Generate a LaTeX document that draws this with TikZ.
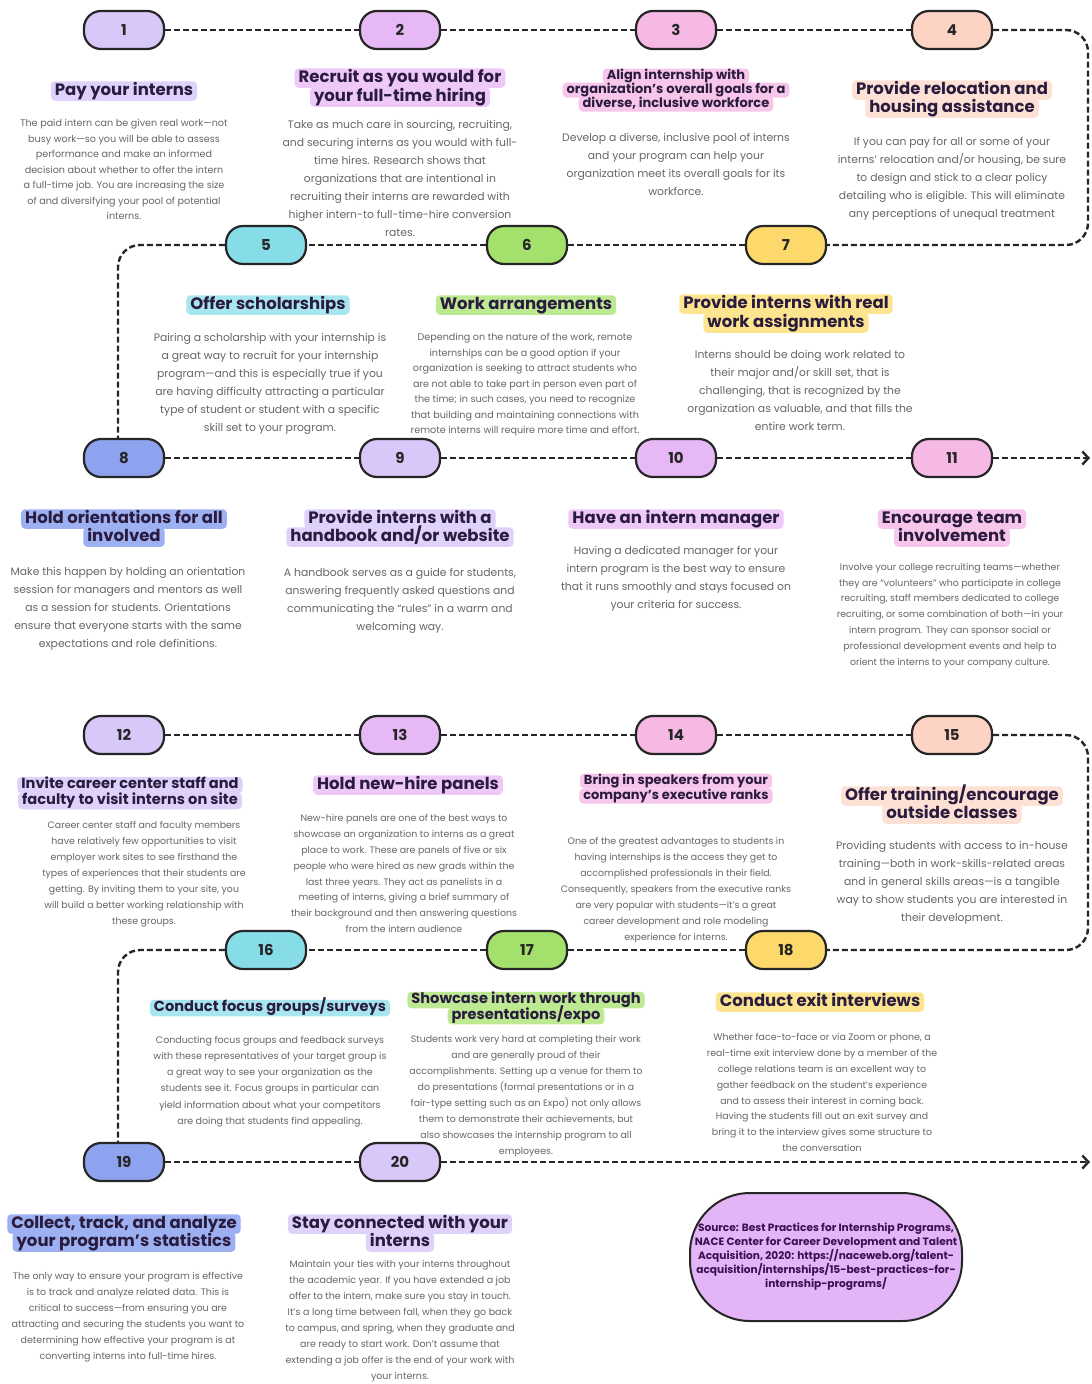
\documentclass[tikz,border=0pt]{standalone}
\usepackage{fontspec}
\setmainfont{Poppins}
\usetikzlibrary{arrows.meta}
\definecolor{linec}{HTML}{262626}
\definecolor{titlec}{HTML}{2A1C3E}
\definecolor{bodyc}{HTML}{666666}
\definecolor{clav}{HTML}{D8C8FA}
\definecolor{clavpink}{HTML}{E6B8F5}
\definecolor{cpink}{HTML}{F6B9E4}
\definecolor{cpeach}{HTML}{FDD3C3}
\definecolor{ccyan}{HTML}{86DDE8}
\definecolor{cgreen}{HTML}{A3E06C}
\definecolor{cyellow}{HTML}{FDD96B}
\definecolor{cblue}{HTML}{8EA3EF}
\definecolor{hlav}{HTML}{DED1FB}
\definecolor{hlavpink}{HTML}{EEC8F8}
\definecolor{hpink}{HTML}{F8C6EA}
\definecolor{hpeach}{HTML}{FDE1D4}
\definecolor{hcyan}{HTML}{A8E6EE}
\definecolor{hgreen}{HTML}{BDE992}
\definecolor{hyellow}{HTML}{FDE48F}
\definecolor{hblue}{HTML}{9DB0F2}
\definecolor{csrc}{HTML}{E3B5F6}
\definecolor{srctext}{HTML}{3A1050}
\tikzset{
  pill/.style={draw=linec, line width=2.2pt, rounded corners=17pt, minimum width=80pt, minimum height=38pt,
    font=\fontsize{15}{15}\selectfont\bfseries, text=linec},
  conn/.style={draw=linec, line width=2.4pt, dash pattern=on 6pt off 3pt},
  ttl/.style={font=\fontsize{16.5}{18}\selectfont\bfseries, text=titlec, inner xsep=4pt, inner ysep=2pt,
    rounded corners=4pt, text height=12pt, text depth=3.5pt},
  sttl/.style={ttl, font=\fontsize{13}{14}\selectfont\bfseries, text height=9.5pt, text depth=2.5pt, inner ysep=1.5pt},
  mttl/.style={ttl, font=\fontsize{14.6}{16}\selectfont\bfseries, text height=10.5pt, text depth=3pt, inner ysep=1.5pt},
  body/.style={align=center, text=bodyc, inner sep=0pt},
  tip/.style={-{Straight Barb[length=6pt,width=13pt]}}
}
\newcommand{\fa}{\fontsize{9.6}{15.5}\selectfont}
\newcommand{\fb}{\fontsize{10.8}{18}\selectfont}
\newcommand{\fc}{\fontsize{9.4}{15.9}\selectfont}
\newcommand{\fd}{\fontsize{9.5}{16.1}\selectfont}
\begin{document}
\begin{tikzpicture}[x=1pt,y=-1pt]
\fill[white] (0,0) rectangle (1092,1384);
\useasboundingbox (0,0) rectangle (1092,1384);

% ---------- pills ----------
\node[pill,fill=clav] (p1) at (124,30) {1};
\node[pill,fill=clavpink] (p2) at (400,30) {2};
\node[pill,fill=cpink] (p3) at (676,30) {3};
\node[pill,fill=cpeach] (p4) at (952,30) {4};
\node[pill,fill=ccyan] (p5) at (266,245) {5};
\node[pill,fill=cgreen] (p6) at (527,245) {6};
\node[pill,fill=cyellow] (p7) at (786,245) {7};
\node[pill,fill=cblue] (p8) at (124,458) {8};
\node[pill,fill=clav] (p9) at (400,458) {9};
\node[pill,fill=clavpink] (p10) at (676,458) {10};
\node[pill,fill=cpink] (p11) at (952,458) {11};
\node[pill,fill=clav] (p12) at (124,735) {12};
\node[pill,fill=clavpink] (p13) at (400,735) {13};
\node[pill,fill=cpink] (p14) at (676,735) {14};
\node[pill,fill=cpeach] (p15) at (952,735) {15};
\node[pill,fill=ccyan] (p16) at (266,950) {16};
\node[pill,fill=cgreen] (p17) at (527,950) {17};
\node[pill,fill=cyellow] (p18) at (786,950) {18};
\node[pill,fill=cblue] (p19) at (124,1162) {19};
\node[pill,fill=clav] (p20) at (400,1162) {20};

% ---------- connectors ----------
\coordinate (k1) at (1088,30);
\coordinate (k2) at (1088,245);
\coordinate (k3) at (118,245);
\coordinate (k4) at (1090,458);
\coordinate (k5) at (1088,735);
\coordinate (k6) at (1088,950);
\coordinate (k7) at (118,950);
\coordinate (k8) at (1090,1162);
\draw[conn] (p1) -- (p2);
\draw[conn] (p2) -- (p3);
\draw[conn] (p3) -- (p4);
\draw[conn,rounded corners=22pt] (p4.east) -- (k1) -- (k2) -- (p7.east);
\draw[conn] (p7) -- (p6);
\draw[conn] (p6) -- (p5);
\draw[conn,rounded corners=22pt] (p5.west) -- (k3) -- (k3 |- p8.north);
\draw[conn] (p8) -- (p9);
\draw[conn] (p9) -- (p10);
\draw[conn] (p10) -- (p11);
\draw[conn,tip] (p11) -- (k4);
\draw[conn] (p12) -- (p13);
\draw[conn] (p13) -- (p14);
\draw[conn] (p14) -- (p15);
\draw[conn,rounded corners=22pt] (p15.east) -- (k5) -- (k6) -- (p18.east);
\draw[conn] (p18) -- (p17);
\draw[conn] (p17) -- (p16);
\draw[conn,rounded corners=22pt] (p16.west) -- (k7) -- (k7 |- p19.north);
\draw[conn] (p19) -- (p20);
\draw[conn,tip] (p20) -- (k8);

% ---------- titles ----------
\node[ttl,fill=hlav] (t1) at (124,91) {Pay your interns};
\node[ttl,fill=hlavpink] (t2a) at (400,78) {Recruit as you would for};
\node[ttl,fill=hlavpink] (t2b) at (400,97) {your full-time hiring};
\node[sttl,fill=hpink] (t3a) at (676,76) {Align internship with};
\node[sttl,fill=hpink] (t3b) at (676,90) {organization’s overall goals for a};
\node[sttl,fill=hpink] (t3c) at (676,104) {diverse, inclusive workforce};
\node[ttl,fill=hpeach] (t4a) at (952,90) {Provide relocation and};
\node[ttl,fill=hpeach] (t4b) at (952,108) {housing assistance};
\node[ttl,fill=hcyan] (t5) at (268,305) {Offer scholarships};
\node[ttl,fill=hgreen] (t6) at (526,305) {Work arrangements};
\node[ttl,fill=hyellow] (t7a) at (786,304) {Provide interns with real};
\node[ttl,fill=hyellow] (t7b) at (786,323) {work assignments};
\node[ttl,fill=hblue] (t8a) at (124,519) {Hold orientations for all};
\node[ttl,fill=hblue] (t8b) at (124,537) {involved};
\node[ttl,fill=hlav] (t9a) at (400,519) {Provide interns with a};
\node[ttl,fill=hlav] (t9b) at (400,537) {handbook and/or website};
\node[ttl,fill=hlavpink] (t10) at (676,519) {Have an intern manager};
\node[ttl,fill=hpink] (t11a) at (952,519) {Encourage team};
\node[ttl,fill=hpink] (t11b) at (952,537) {involvement};
\node[mttl,fill=hlav] (t12a) at (130,785) {Invite career center staff and};
\node[mttl,fill=hlav] (t12b) at (130,801) {faculty to visit interns on site};
\node[ttl,fill=hlavpink] (t13) at (408,785) {Hold new-hire panels};
\node[sttl,fill=hpink] (t14a) at (676,781) {Bring in speakers from your};
\node[sttl,fill=hpink] (t14b) at (676,796) {company’s executive ranks};
\node[ttl,fill=hpeach] (t15a) at (952,796) {Offer training/encourage};
\node[ttl,fill=hpeach] (t15b) at (952,814) {outside classes};
\node[mttl,fill=hcyan] (t16) at (270,1008) {Conduct focus groups/surveys};
\node[mttl,fill=hgreen] (t17a) at (526,1000) {Showcase intern work through};
\node[mttl,fill=hgreen] (t17b) at (526,1016) {presentations/expo};
\node[ttl,fill=hyellow] (t18) at (820,1002) {Conduct exit interviews};
\node[ttl,fill=hblue] (t19a) at (124,1224) {Collect, track, and analyze};
\node[ttl,fill=hblue] (t19b) at (124,1242) {your program’s statistics};
\node[ttl,fill=hlav] (t20a) at (400,1224) {Stay connected with your};
\node[ttl,fill=hlav] (t20b) at (400,1242) {interns};

% ---------- bodies ----------
\node[body,font=\fa] (b1) at (124,169.5) {The paid intern can be given real work—not\\busy work—so you will be able to assess\\performance and make an informed\\decision about whether to offer the intern\\a full-time job. You are increasing the size\\of and diversifying your pool of potential\\interns.};
\node[body,font=\fb] (b2) at (400,178) {Take as much care in sourcing, recruiting,\\and securing interns as you would with full-\\time hires. Research shows that\\organizations that are intentional in\\recruiting their interns are rewarded with\\higher intern-to full-time-hire conversion\\rates.};
\node[body,font=\fb] (b3) at (676,164) {Develop a diverse, inclusive pool of interns\\and your program can help your\\organization meet its overall goals for its\\workforce.};
\node[body,font=\fb] (b4) at (952,179) {If you can pay for all or some of your\\interns’ relocation and/or housing, be sure\\to design and stick to a clear policy\\detailing who is eligible. This will eliminate\\any perceptions of unequal treatment};
\node[body,font=\fb] (b5) at (270,383.5) {Pairing a scholarship with your internship is\\a great way to recruit for your internship\\program—and this is especially true if you\\are having difficulty attracting a particular\\type of student or student with a specific\\skill set to your program.};
\node[body,font=\fa] (b6) at (525,385) {Depending on the nature of the work, remote\\internships can be a good option if your\\organization is seeking to attract students who\\are not able to take part in person even part of\\the time; in such cases, you need to recognize\\that building and maintaining connections with\\remote interns will require more time and effort.};
\node[body,font=\fb] (b7) at (800,390) {Interns should be doing work related to\\their major and/or skill set, that is\\challenging, that is recognized by the\\organization as valuable, and that fills the\\entire work term.};
\node[body,font=\fb] (b8) at (128,609) {Make this happen by holding an orientation\\session for managers and mentors as well\\as a session for students. Orientations\\ensure that everyone starts with the same\\expectations and role definitions.};
\node[body,font=\fb] (b9) at (400,601) {A handbook serves as a guide for students,\\answering frequently asked questions and\\communicating the “rules” in a warm and\\welcoming way.};
\node[body,font=\fb] (b10) at (676,579) {Having a dedicated manager for your\\intern program is the best way to ensure\\that it runs smoothly and stays focused on\\your criteria for success.};
\node[body,font=\fc] (b11) at (950,615.5) {Involve your college recruiting teams—whether\\they are “volunteers” who participate in college\\recruiting, staff members dedicated to college\\recruiting, or some combination of both—in your\\intern program. They can sponsor social or\\professional development events and help to\\orient the interns to your company culture.};
\node[body,font=\fc] (b12) at (144,874) {Career center staff and faculty members\\have relatively few opportunities to visit\\employer work sites to see firsthand the\\types of experiences that their students are\\getting. By inviting them to your site, you\\will build a better working relationship with\\these groups.};
\node[body,font=\fc] (b13) at (404,873.5) {New-hire panels are one of the best ways to\\showcase an organization to interns as a great\\place to work. These are panels of five or six\\people who were hired as new grads within the\\last three years. They act as panelists in a\\meeting of interns, giving a brief summary of\\their background and then answering questions\\from the intern audience};
\node[body,font=\fc] (b14) at (676,890) {One of the greatest advantages to students in\\having internships is the access they get to\\accomplished professionals in their field.\\Consequently, speakers from the executive ranks\\are very popular with students—it’s a great\\career development and role modeling\\experience for interns.};
\node[body,font=\fb] (b15) at (952,883) {Providing students with access to in-house\\training—both in work-skills-related areas\\and in general skills areas—is a tangible\\way to show students you are interested in\\their development.};
\node[body,font=\fd] (b16) at (270,1081.5) {Conducting focus groups and feedback surveys\\with these representatives of your target group is\\a great way to see your organization as the\\students see it. Focus groups in particular can\\yield information about what your competitors\\are doing that students find appealing.};
\node[body,font=\fc] (b17) at (526,1096) {Students work very hard at completing their work\\and are generally proud of their\\accomplishments. Setting up a venue for them to\\do presentations (formal presentations or in a\\fair-type setting such as an Expo) not only allows\\them to demonstrate their achievements, but\\also showcases the internship program to all\\employees.};
\node[body,font=\fc] (b18) at (822,1092.5) {Whether face-to-face or via Zoom or phone, a\\real-time exit interview done by a member of the\\college relations team is an excellent way to\\gather feedback on the student’s experience\\and to assess their interest in coming back.\\Having the students fill out an exit survey and\\bring it to the interview gives some structure to\\the conversation};
\node[body,font=\fd] (b19) at (128,1317) {The only way to ensure your program is effective\\is to track and analyze related data. This is\\critical to success—from ensuring you are\\attracting and securing the students you want to\\determining how effective your program is at\\converting interns into full-time hires.};
\node[body,font=\fd] (b20) at (400,1321) {Maintain your ties with your interns throughout\\the academic year. If you have extended a job\\offer to the intern, make sure you stay in touch.\\It’s a long time between fall, when they go back\\to campus, and spring, when they graduate and\\are ready to start work. Don’t assume that\\extending a job offer is the end of your work with\\your interns.};

% ---------- source ----------
\node[draw=linec, line width=2pt, fill=csrc, rounded corners=60pt, minimum width=272pt, minimum height=128pt,
  align=center, text=srctext, font=\fontsize{10.6}{14}\selectfont\bfseries, inner sep=0pt] (src) at (826,1257)
  {Source: Best Practices for Internship Programs,\\NACE Center for Career Development and Talent\\Acquisition, 2020: https://naceweb.org/talent-\\acquisition/internships/15-best-practices-for-\\internship-programs/};
\end{tikzpicture}
\end{document}
